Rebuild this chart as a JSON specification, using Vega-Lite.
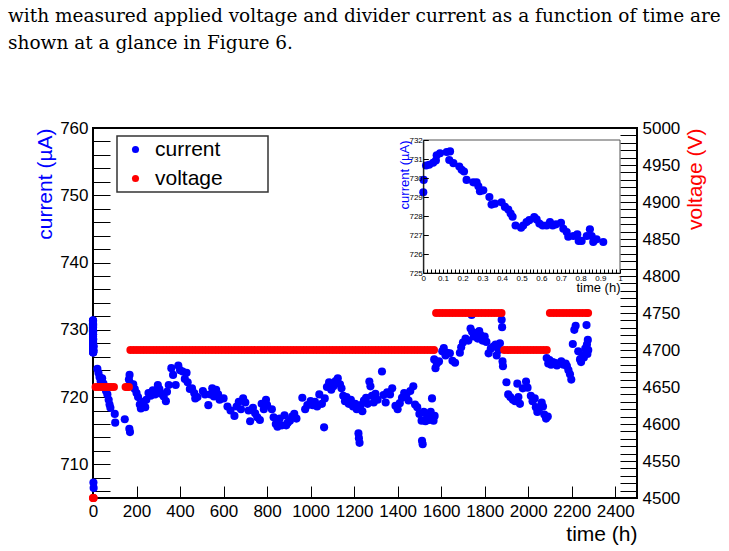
{
  "$schema": "https://vega.github.io/schema/vega-lite/v6.json",
  "autosize": "none",
  "width": 544,
  "height": 370,
  "padding": {"left": 93, "top": 128, "right": 92, "bottom": 53},
  "title": {
    "text": ["with measured applied voltage and divider current as a function of time are", "shown at a glance in Figure 6."],
    "anchor": "start",
    "frame": "group",
    "dx": -85,
    "offset": 67,
    "font": "DejaVu Serif",
    "fontSize": 18.5,
    "fontWeight": "normal",
    "color": "black",
    "lineHeight": 27
  },
  "datasets": {
    "current": [
      {"t":0,"current":729.25},{"t":0.002,"current":729.9},{"t":0.014,"current":730.66},{"t":0.03,"current":730.7},
      {"t":0.05,"current":730.8},{"t":0.064,"current":730.92},{"t":0.068,"current":731.2},{"t":0.085,"current":731.3},
      {"t":0.119,"current":731.37},{"t":0.136,"current":731.4},{"t":0.132,"current":730.95},{"t":0.153,"current":730.78},
      {"t":0.183,"current":730.6},{"t":0.195,"current":730.43},{"t":0.207,"current":730.34},{"t":0.22,"current":729.9},
      {"t":0.254,"current":729.77},{"t":0.271,"current":729.77},{"t":0.28,"current":729.56},{"t":0.288,"current":729.3},
      {"t":0.305,"current":729.35},{"t":0.336,"current":729.0},{"t":0.347,"current":728.6},{"t":0.364,"current":728.65},
      {"t":0.398,"current":728.72},{"t":0.415,"current":728.48},{"t":0.432,"current":728.34},{"t":0.444,"current":728.13},
      {"t":0.454,"current":727.96},{"t":0.469,"current":727.5},{"t":0.497,"current":727.38},{"t":0.508,"current":727.5},
      {"t":0.525,"current":727.68},{"t":0.539,"current":727.78},{"t":0.564,"current":727.94},{"t":0.576,"current":727.82},
      {"t":0.59,"current":727.6},{"t":0.607,"current":727.5},{"t":0.627,"current":727.5},{"t":0.644,"current":727.68},
      {"t":0.658,"current":727.5},{"t":0.675,"current":727.56},{"t":0.7,"current":727.64},{"t":0.712,"current":727.33},
      {"t":0.729,"current":727.16},{"t":0.737,"current":726.91},{"t":0.763,"current":726.95},{"t":0.783,"current":727.03},
      {"t":0.79,"current":726.69},{"t":0.805,"current":726.69},{"t":0.831,"current":726.95},{"t":0.847,"current":727.3},
      {"t":0.856,"current":726.95},{"t":0.864,"current":726.63},{"t":0.881,"current":726.77},{"t":0.915,"current":726.63},
      {"t":2,"current":707.3},{"t":3,"current":706.5},
      {"t":20,"current":724.2},{"t":25,"current":723.6},{"t":30,"current":723.0},{"t":35,"current":722.4},
      {"t":42,"current":722.8},{"t":48,"current":722.0},{"t":52,"current":721.4},{"t":60,"current":720.9},
      {"t":66,"current":720.4},{"t":72,"current":719.6},{"t":76,"current":718.9},{"t":80,"current":718.4},
      {"t":100,"current":717.5},{"t":102,"current":716.2},{"t":146,"current":716.7},{"t":167,"current":715.3},
      {"t":170,"current":714.8},{"t":165,"current":722.6},{"t":168,"current":723.3},{"t":172,"current":722.0},
      {"t":185,"current":721.9},{"t":192,"current":721.2},{"t":200,"current":720.6},{"t":207,"current":720.0},
      {"t":215,"current":718.9},{"t":220,"current":718.3},{"t":232,"current":719.3},{"t":240,"current":718.5},
      {"t":245,"current":719.6},{"t":255,"current":720.6},{"t":265,"current":720.2},{"t":275,"current":721.0},
      {"t":285,"current":720.4},{"t":298,"current":721.8},{"t":305,"current":721.2},{"t":312,"current":720.5},
      {"t":325,"current":720.1},{"t":335,"current":719.4},{"t":340,"current":720.8},{"t":348,"current":721.8},
      {"t":360,"current":724.3},{"t":368,"current":723.3},{"t":380,"current":721.8},{"t":392,"current":724.7},
      {"t":400,"current":724.0},{"t":412,"current":723.8},{"t":422,"current":722.7},{"t":430,"current":723.6},
      {"t":435,"current":722.2},{"t":445,"current":721.2},{"t":455,"current":721.3},{"t":465,"current":720.6},
      {"t":470,"current":719.8},{"t":480,"current":720.0},{"t":505,"current":720.9},{"t":515,"current":720.4},
      {"t":530,"current":718.8},{"t":540,"current":720.4},{"t":548,"current":721.3},{"t":556,"current":720.1},
      {"t":566,"current":721.1},{"t":575,"current":720.4},{"t":582,"current":719.6},{"t":600,"current":719.8},
      {"t":618,"current":718.6},{"t":632,"current":718.0},{"t":650,"current":717.2},{"t":660,"current":718.6},
      {"t":670,"current":719.3},{"t":680,"current":718.2},{"t":690,"current":719.8},{"t":700,"current":719.2},
      {"t":715,"current":718.0},{"t":722,"current":716.4},{"t":735,"current":718.4},{"t":745,"current":717.6},
      {"t":755,"current":717.0},{"t":767,"current":716.6},{"t":775,"current":719.0},{"t":785,"current":718.2},
      {"t":795,"current":719.6},{"t":800,"current":718.8},{"t":822,"current":718.2},{"t":830,"current":717.0},
      {"t":840,"current":716.0},{"t":848,"current":715.6},{"t":858,"current":716.8},{"t":868,"current":715.8},
      {"t":880,"current":717.3},{"t":888,"current":715.8},{"t":895,"current":716.2},{"t":905,"current":716.5},
      {"t":915,"current":717.1},{"t":925,"current":717.5},{"t":935,"current":716.8},{"t":962,"current":719.9},
      {"t":975,"current":718.2},{"t":985,"current":718.8},{"t":1000,"current":719.4},{"t":1010,"current":718.8},
      {"t":1020,"current":719.3},{"t":1030,"current":718.6},{"t":1040,"current":720.4},{"t":1052,"current":719.0},
      {"t":1062,"current":715.5},{"t":1065,"current":719.8},{"t":1075,"current":721.5},{"t":1085,"current":722.2},
      {"t":1095,"current":721.1},{"t":1105,"current":721.6},{"t":1115,"current":722.4},{"t":1125,"current":722.8},
      {"t":1135,"current":721.9},{"t":1142,"current":721.3},{"t":1150,"current":720.2},{"t":1158,"current":719.4},
      {"t":1165,"current":720.0},{"t":1175,"current":719.0},{"t":1185,"current":719.6},{"t":1195,"current":718.6},
      {"t":1205,"current":719.0},{"t":1212,"current":718.2},{"t":1220,"current":714.6},{"t":1222,"current":713.9},
      {"t":1225,"current":713.2},{"t":1230,"current":718.8},{"t":1238,"current":717.9},{"t":1245,"current":719.5},
      {"t":1255,"current":719.9},{"t":1262,"current":719.0},{"t":1270,"current":722.3},{"t":1275,"current":721.6},
      {"t":1282,"current":720.2},{"t":1290,"current":719.2},{"t":1298,"current":720.5},{"t":1308,"current":719.6},
      {"t":1328,"current":723.8},{"t":1335,"current":720.3},{"t":1345,"current":719.2},{"t":1352,"current":720.7},
      {"t":1365,"current":720.4},{"t":1375,"current":721.3},{"t":1390,"current":718.7},{"t":1400,"current":718.2},
      {"t":1410,"current":719.1},{"t":1420,"current":719.9},{"t":1430,"current":720.6},{"t":1440,"current":720.3},
      {"t":1450,"current":719.5},{"t":1458,"current":720.9},{"t":1472,"current":721.6},{"t":1480,"current":718.9},
      {"t":1490,"current":718.5},{"t":1500,"current":717.5},{"t":1510,"current":716.5},{"t":1512,"current":713.5},
      {"t":1515,"current":713.0},{"t":1520,"current":717.8},{"t":1528,"current":716.4},{"t":1535,"current":717.2},
      {"t":1545,"current":716.6},{"t":1552,"current":717.8},{"t":1558,"current":719.8},{"t":1565,"current":716.5},
      {"t":1570,"current":717.2},{"t":1568,"current":725.6},{"t":1574,"current":724.3},{"t":1580,"current":725.0},
      {"t":1590,"current":725.3},{"t":1605,"current":726.8},{"t":1612,"current":727.3},{"t":1620,"current":726.2},
      {"t":1628,"current":726.6},{"t":1640,"current":726.5},{"t":1652,"current":725.4},{"t":1664,"current":725.1},
      {"t":1686,"current":726.6},{"t":1692,"current":727.4},{"t":1700,"current":728.1},{"t":1712,"current":728.7},
      {"t":1725,"current":728.4},{"t":1735,"current":730.2},{"t":1740,"current":732.2},{"t":1742,"current":729.7},
      {"t":1750,"current":729.0},{"t":1758,"current":729.5},{"t":1768,"current":728.7},{"t":1775,"current":729.8},
      {"t":1782,"current":729.2},{"t":1790,"current":728.4},{"t":1800,"current":729.0},{"t":1808,"current":728.2},
      {"t":1818,"current":726.5},{"t":1828,"current":727.2},{"t":1840,"current":727.5},{"t":1850,"current":727.8},
      {"t":1855,"current":726.2},{"t":1865,"current":727.0},{"t":1870,"current":728.0},{"t":1878,"current":731.5},
      {"t":1880,"current":730.4},{"t":1882,"current":725.3},{"t":1884,"current":724.6},{"t":1900,"current":722.2},
      {"t":1908,"current":720.4},{"t":1918,"current":720.0},{"t":1930,"current":719.6},{"t":1940,"current":719.4},
      {"t":1950,"current":722.0},{"t":1955,"current":720.0},{"t":1962,"current":719.0},{"t":1975,"current":721.3},
      {"t":1990,"current":722.3},{"t":1997,"current":721.4},{"t":2012,"current":720.2},{"t":2020,"current":719.4},
      {"t":2030,"current":719.8},{"t":2035,"current":718.5},{"t":2042,"current":717.8},{"t":2050,"current":718.3},
      {"t":2062,"current":719.2},{"t":2068,"current":718.6},{"t":2074,"current":717.4},{"t":2082,"current":716.8},
      {"t":2090,"current":717.1},{"t":2085,"current":725.8},{"t":2092,"current":725.0},{"t":2098,"current":725.5},
      {"t":2105,"current":724.8},{"t":2112,"current":725.2},{"t":2122,"current":725.1},{"t":2132,"current":724.7},
      {"t":2142,"current":725.0},{"t":2152,"current":725.3},{"t":2162,"current":724.8},{"t":2172,"current":725.0},
      {"t":2178,"current":724.6},{"t":2185,"current":724.0},{"t":2192,"current":723.4},{"t":2198,"current":722.6},
      {"t":2205,"current":727.9},{"t":2212,"current":730.0},{"t":2218,"current":730.6},{"t":2230,"current":726.8},
      {"t":2238,"current":725.6},{"t":2243,"current":725.2},{"t":2250,"current":726.2},{"t":2256,"current":725.9},
      {"t":2262,"current":727.2},{"t":2268,"current":730.7},{"t":2270,"current":727.8},{"t":2274,"current":728.5},
      {"t":2276,"current":727.0},{"t":2272,"current":726.4}
    ],
    "voltage": [
      {"t":0,"voltage":4500},{"t":1.5,"voltage":4500},{"t":3,"voltage":4500},
      {"t":12,"voltage":4650},{"t":24,"voltage":4650},{"t":36,"voltage":4650},{"t":48,"voltage":4650},
      {"t":60,"voltage":4650},{"t":72,"voltage":4650},{"t":84,"voltage":4650},{"t":96,"voltage":4650},
      {"t":150,"voltage":4650},{"t":158,"voltage":4650},{"t":165,"voltage":4650},
      {"t":172,"voltage":4700},{"t":187,"voltage":4700},{"t":202,"voltage":4700},{"t":217,"voltage":4700},
      {"t":232,"voltage":4700},{"t":247,"voltage":4700},{"t":262,"voltage":4700},{"t":277,"voltage":4700},
      {"t":292,"voltage":4700},{"t":307,"voltage":4700},{"t":322,"voltage":4700},{"t":337,"voltage":4700},
      {"t":352,"voltage":4700},{"t":367,"voltage":4700},{"t":382,"voltage":4700},{"t":397,"voltage":4700},
      {"t":412,"voltage":4700},{"t":427,"voltage":4700},{"t":442,"voltage":4700},{"t":457,"voltage":4700},
      {"t":472,"voltage":4700},{"t":487,"voltage":4700},{"t":502,"voltage":4700},{"t":517,"voltage":4700},
      {"t":532,"voltage":4700},{"t":547,"voltage":4700},{"t":562,"voltage":4700},{"t":577,"voltage":4700},
      {"t":592,"voltage":4700},{"t":607,"voltage":4700},{"t":622,"voltage":4700},{"t":637,"voltage":4700},
      {"t":652,"voltage":4700},{"t":667,"voltage":4700},{"t":682,"voltage":4700},{"t":697,"voltage":4700},
      {"t":712,"voltage":4700},{"t":727,"voltage":4700},{"t":742,"voltage":4700},{"t":757,"voltage":4700},
      {"t":772,"voltage":4700},{"t":787,"voltage":4700},{"t":802,"voltage":4700},{"t":817,"voltage":4700},
      {"t":832,"voltage":4700},{"t":847,"voltage":4700},{"t":862,"voltage":4700},{"t":877,"voltage":4700},
      {"t":892,"voltage":4700},{"t":907,"voltage":4700},{"t":922,"voltage":4700},{"t":937,"voltage":4700},
      {"t":952,"voltage":4700},{"t":967,"voltage":4700},{"t":982,"voltage":4700},{"t":997,"voltage":4700},
      {"t":1012,"voltage":4700},{"t":1027,"voltage":4700},{"t":1042,"voltage":4700},{"t":1057,"voltage":4700},
      {"t":1072,"voltage":4700},{"t":1087,"voltage":4700},{"t":1102,"voltage":4700},{"t":1117,"voltage":4700},
      {"t":1132,"voltage":4700},{"t":1147,"voltage":4700},{"t":1162,"voltage":4700},{"t":1177,"voltage":4700},
      {"t":1192,"voltage":4700},{"t":1207,"voltage":4700},{"t":1222,"voltage":4700},{"t":1237,"voltage":4700},
      {"t":1252,"voltage":4700},{"t":1267,"voltage":4700},{"t":1282,"voltage":4700},{"t":1297,"voltage":4700},
      {"t":1312,"voltage":4700},{"t":1327,"voltage":4700},{"t":1342,"voltage":4700},{"t":1357,"voltage":4700},
      {"t":1372,"voltage":4700},{"t":1387,"voltage":4700},{"t":1402,"voltage":4700},{"t":1417,"voltage":4700},
      {"t":1432,"voltage":4700},{"t":1447,"voltage":4700},{"t":1462,"voltage":4700},{"t":1477,"voltage":4700},
      {"t":1492,"voltage":4700},{"t":1507,"voltage":4700},{"t":1522,"voltage":4700},{"t":1537,"voltage":4700},
      {"t":1552,"voltage":4700},{"t":1567,"voltage":4700},
      {"t":1577,"voltage":4750},{"t":1592,"voltage":4750},{"t":1607,"voltage":4750},{"t":1622,"voltage":4750},
      {"t":1637,"voltage":4750},{"t":1652,"voltage":4750},{"t":1667,"voltage":4750},{"t":1682,"voltage":4750},
      {"t":1697,"voltage":4750},{"t":1712,"voltage":4750},{"t":1727,"voltage":4750},{"t":1742,"voltage":4750},
      {"t":1757,"voltage":4750},{"t":1772,"voltage":4750},{"t":1787,"voltage":4750},{"t":1802,"voltage":4750},
      {"t":1817,"voltage":4750},{"t":1832,"voltage":4750},{"t":1847,"voltage":4750},{"t":1862,"voltage":4750},
      {"t":1877,"voltage":4750},
      {"t":1890,"voltage":4700},{"t":1905,"voltage":4700},{"t":1920,"voltage":4700},{"t":1935,"voltage":4700},
      {"t":1950,"voltage":4700},{"t":1965,"voltage":4700},{"t":1980,"voltage":4700},{"t":1995,"voltage":4700},
      {"t":2010,"voltage":4700},{"t":2025,"voltage":4700},{"t":2040,"voltage":4700},{"t":2055,"voltage":4700},
      {"t":2070,"voltage":4700},{"t":2085,"voltage":4700},
      {"t":2100,"voltage":4750},{"t":2115,"voltage":4750},{"t":2130,"voltage":4750},{"t":2145,"voltage":4750},
      {"t":2160,"voltage":4750},{"t":2175,"voltage":4750},{"t":2190,"voltage":4750},{"t":2205,"voltage":4750},
      {"t":2220,"voltage":4750},{"t":2235,"voltage":4750},{"t":2250,"voltage":4750},{"t":2265,"voltage":4750},
      {"t":2275,"voltage":4750}
    ]
  },
  "layer": [
    {
      "layer": [
        {
          "data": {"name": "current"},
          "mark": {"type": "circle", "size": 66, "opacity": 1},
          "encoding": {
            "x": {
              "field": "t", "type": "quantitative",
              "scale": {"domain": [0, 2500], "nice": false, "zero": false},
              "axis": {
                "orient": "bottom",
                "values": [0,50,100,150,200,250,300,350,400,450,500,550,600,650,700,750,800,850,900,950,1000,1050,1100,1150,1200,1250,1300,1350,1400,1450,1500,1550,1600,1650,1700,1750,1800,1850,1900,1950,2000,2050,2100,2150,2200,2250,2300,2350,2400,2450],
                "format": "d",
                "labelExpr": "datum.value % 200 === 0 ? datum.label : ''",
                "labelOverlap": false,
                "tickSize": -12,
                "labelPadding": 17,
                "encode": {"ticks": {"y2": {"condition": {"test": "datum.value % 200 === 0", "value": -12}, "value": -6}}},
                "title": "time (h)",
                "titleFontSize": 21,
                "titleColor": "black",
                "titleAnchor": "end",
                "titleAlign": "right",
                "titleBaseline": "alphabetic",
                "titleX": 544,
                "titleY": 42
              }
            },
            "y": {
              "field": "current", "type": "quantitative",
              "scale": {"domain": [705, 760], "nice": false, "zero": false},
              "axis": {
                "orient": "left",
                "values": [706,708,710,712,714,716,718,720,722,724,726,728,730,732,734,736,738,740,742,744,746,748,750,752,754,756,758,760],
                "format": "d",
                "labelExpr": "datum.value % 10 === 0 ? datum.label : ''",
                "labelOverlap": false,
                "tickSize": -17,
                "labelPadding": 22,
                "encode": {"ticks": {"x2": {"condition": {"test": "datum.value % 10 === 0", "value": 17}, "value": 8.5}}},
                "title": "current (µA)",
                "titleFontSize": 21,
                "titleColor": "#0000ff",
                "titleAngle": -90,
                "titleAnchor": "end",
                "titleAlign": "right",
                "titleBaseline": "middle",
                "titleX": -48,
                "titleY": 0
              }
            },
            "color": {
              "datum": "current",
              "scale": {"domain": ["current", "voltage"], "range": ["#0000ff", "#ff0000"]},
              "legend": {
                "orient": "none",
                "legendX": 24,
                "legendY": 8,
                "title": null,
                "symbolType": "circle",
                "symbolSize": 50,
                "symbolOpacity": 1,
                "symbolOffset": 5,
                "labelFont": "Liberation Sans",
                "labelFontSize": 21,
                "labelColor": "black",
                "labelOffset": 9,
                "labelExpr": "datum.label + '\u2003\u2003\u200b'",
                "rowPadding": 7,
                "padding": 3,
                "strokeColor": "#333333",
                "fillColor": "white"
              }
            }
          }
        },
        {
          "data": {"name": "voltage"},
          "mark": {"type": "circle", "size": 66, "opacity": 1},
          "encoding": {
            "x": {"field": "t", "type": "quantitative"},
            "y": {
              "field": "voltage", "type": "quantitative",
              "scale": {"domain": [4500, 5000], "nice": false, "zero": false},
              "axis": {
                "orient": "right",
                "values": [4500,4510,4520,4530,4540,4550,4560,4570,4580,4590,4600,4610,4620,4630,4640,4650,4660,4670,4680,4690,4700,4710,4720,4730,4740,4750,4760,4770,4780,4790,4800,4810,4820,4830,4840,4850,4860,4870,4880,4890,4900,4910,4920,4930,4940,4950,4960,4970,4980,4990,5000],
                "format": "d",
                "labelExpr": "datum.value % 50 === 0 ? datum.label : ''",
                "labelOverlap": false,
                "tickSize": -17,
                "labelPadding": 22,
                "encode": {"ticks": {"x2": {"condition": {"test": "datum.value % 50 === 0", "value": -17}, "value": -8.5}}},
                "title": "voltage (V)",
                "titleFontSize": 21,
                "titleColor": "#ff0000",
                "titleAngle": -90,
                "titleAnchor": "end",
                "titleAlign": "right",
                "titleBaseline": "middle",
                "titleX": 58,
                "titleY": 0
              }
            },
            "color": {"datum": "voltage"}
          }
        }
      ],
      "resolve": {"scale": {"y": "independent"}, "axis": {"y": "independent"}}
    },
    {
      "data": {"values": [{}]},
      "mark": {"type": "rect", "fill": "white", "stroke": "#555555", "strokeWidth": 1},
      "encoding": {
        "x": {"datum": 0, "type": "quantitative", "scale": {"domain": [0, 1], "range": [330.3, 527], "nice": false, "zero": false}, "axis": null},
        "x2": {"datum": 1},
        "y": {"datum": 725, "type": "quantitative", "scale": {"domain": [725, 732], "range": [145, 12], "nice": false, "zero": false}, "axis": null},
        "y2": {"datum": 732}
      }
    },
    {
      "data": {"name": "current"},
      "transform": [{"filter": "datum.t <= 1"}],
      "mark": {"type": "circle", "size": 66, "opacity": 1, "color": "#0000ff"},
      "encoding": {
        "x": {
          "field": "t", "type": "quantitative",
          "scale": {"domain": [0, 1], "range": [330.3, 527], "nice": false, "zero": false},
          "axis": {
            "orient": "bottom",
            "offset": -225,
            "zindex": 1,
            "domain": true,
            "domainColor": "black",
            "domainWidth": 1,
            "values": [0,0.02,0.04,0.06,0.08,0.1,0.12,0.14,0.16,0.18,0.2,0.22,0.24,0.26,0.28,0.3,0.32,0.34,0.36,0.38,0.4,0.42,0.44,0.46,0.48,0.5,0.52,0.54,0.56,0.58,0.6,0.62,0.64,0.66,0.68,0.7,0.72,0.74,0.76,0.78,0.8,0.82,0.84,0.86,0.88,0.9,0.92,0.94,0.96,0.98,1],
            "format": "~g",
            "labelExpr": "abs(datum.value * 10 - round(datum.value * 10)) < 0.001 ? datum.label : ''",
            "labelOverlap": false,
            "labelFontSize": 8,
            "tickSize": -4,
            "labelPadding": 5,
            "encode": {"ticks": {"y2": {"condition": {"test": "abs(datum.value * 10 - round(datum.value * 10)) < 0.001", "value": -4}, "value": -2}}},
            "title": "time (h)",
            "titleFontSize": 13,
            "titleColor": "black",
            "titleAlign": "right",
            "titleBaseline": "alphabetic",
            "titleX": 527,
            "titleY": 18
          }
        },
        "y": {
          "field": "current", "type": "quantitative",
          "scale": {"domain": [725, 732], "range": [145, 12], "nice": false, "zero": false},
          "axis": {
            "orient": "left",
            "offset": -330.3,
            "zindex": 1,
            "domain": true,
            "domainColor": "black",
            "domainWidth": 1,
            "values": [725, 726, 727, 728, 729, 730, 731, 732],
            "format": "d",
            "labelOverlap": false,
            "labelFontSize": 8,
            "tickSize": -5,
            "labelPadding": 6,
            "title": "current (µA)",
            "titleFontSize": 13,
            "titleColor": "#0000ff",
            "titleAngle": -90,
            "titleAlign": "right",
            "titleBaseline": "middle",
            "titleX": -19,
            "titleY": 12
          }
        }
      }
    }
  ],
  "resolve": {"scale": {"x": "independent", "y": "independent"}, "axis": {"x": "independent", "y": "independent"}},
  "config": {
    "background": "white",
    "view": {"stroke": "black", "strokeWidth": 2},
    "legend": {"strokeWidth": 1.5},
    "axis": {
      "labelFont": "Liberation Sans",
      "labelFontSize": 17,
      "labelColor": "black",
      "labelFlush": false,
      "labelOverlap": false,
      "titleFont": "Liberation Sans",
      "titleFontWeight": "normal",
      "tickColor": "black",
      "tickWidth": 1,
      "grid": false,
      "domain": false
    }
  }
}
